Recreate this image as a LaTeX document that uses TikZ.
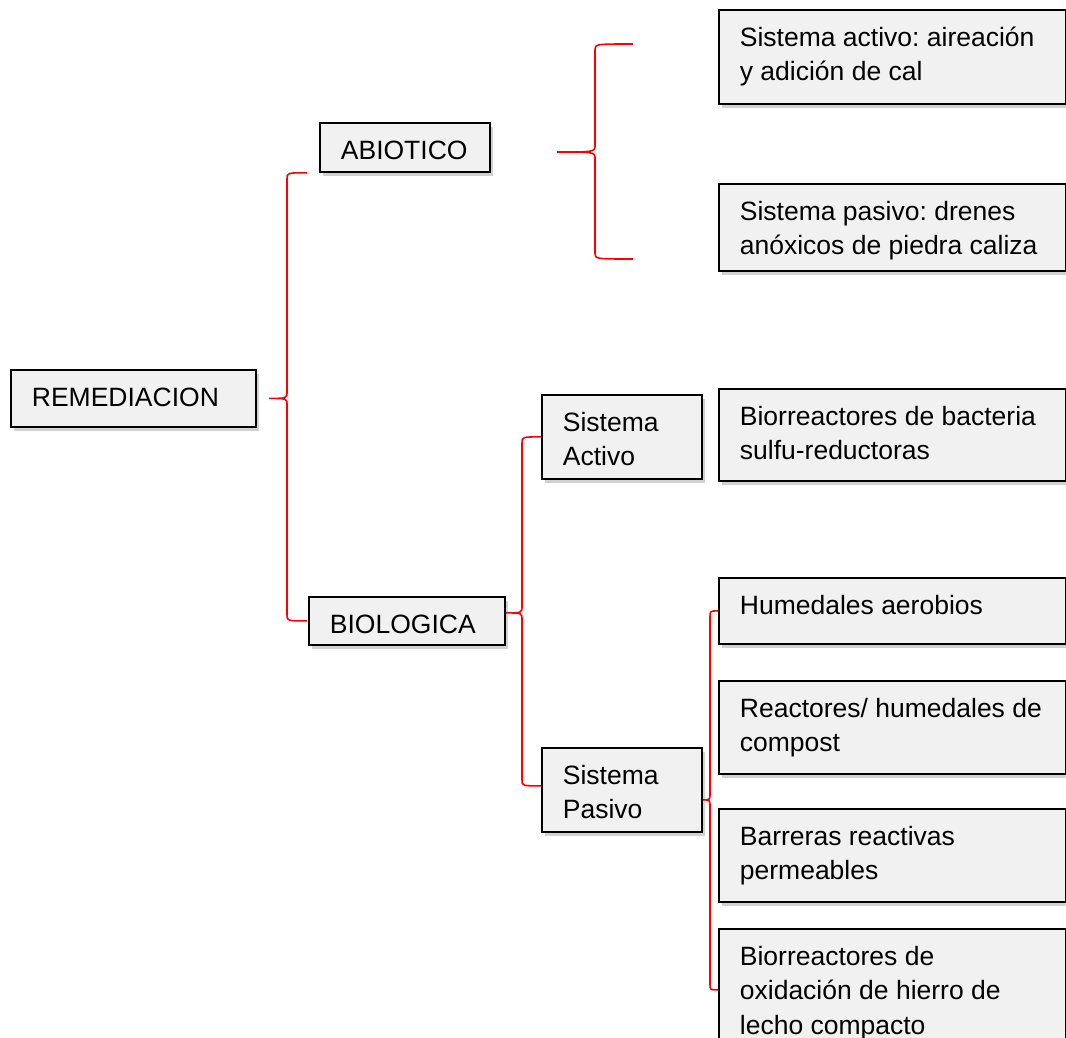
\documentclass[tikz,border=0pt]{standalone}
\usepackage{fontspec}
\setmainfont{Liberation Sans}
\usepackage{tikz}
\usetikzlibrary{calc,shadows}

\definecolor{gris}{RGB}{241,241,241}
%% text of a box: width, height, lines
\newcommand{\textocaja}[3]{\parbox[t][#2pt][t]{#1pt}{\raggedright\frenchspacing\leftskip=21pt\vspace*{12pt}\strut #3}}
%% red brace: tip, x of the spine, upper end, lower end
\newcommand{\llave}[4]{%
  \draw[llave] let \p1=#1, \p2=#3, \p3=#4 in
    (\p2) .. controls (#2pt,\y2) .. (#2pt,\y2-6pt)
    -- (#2pt,\y1+7pt) .. controls (#2pt,\y1) .. (\p1)
    .. controls (#2pt,\y1) .. (#2pt,\y1-7pt)
    -- (#2pt,\y3+6pt) .. controls (#2pt,\y3) .. (\p3);}

\tikzset{
  caja/.style={draw=black, line width=1.8pt, fill=gris, inner sep=0pt,
    anchor=north west, font=\fontsize{26.5}{34.5}\selectfont,
    drop shadow={shadow xshift=3pt, shadow yshift=-4pt, opacity=.3, fill=black!60}},
  llave/.style={red, line width=1.6pt}
}

\begin{document}
\begin{tikzpicture}[x=1pt,y=-1pt]
	\useasboundingbox (0,0) rectangle (1066,1038);
	\clip (0,0) rectangle (1066,1038);
	%% left part of the tree
	\node[caja] (remed) at (10,369) {\textocaja{245}{57}{REMEDIACION}};
	\node[caja] (abio) at (319,122) {\textocaja{170}{49}{ABIOTICO}};
	\node[caja] (bio) at (308,596) {\textocaja{196}{48}{BIOLOGICA}};
	\node[caja] (sact) at (541,394) {\textocaja{160}{84}{Sistema\\Activo}};
	\node[caja] (spas) at (541,747) {\textocaja{160}{84}{Sistema\\Pasivo}};
	%% right column
	\node[caja] (aire) at (718,9) {\textocaja{347}{94}{Sistema activo: aireación\\y adición de cal}};
	\node[caja] (dren) at (718,183) {\textocaja{347}{87}{Sistema pasivo: drenes\\anóxicos de piedra caliza}};
	\node[caja] (bact) at (718,388) {\textocaja{347}{92}{Biorreactores de bacteria\\sulfu-reductoras}};
	\node[caja] (hum) at (718,577) {\textocaja{347}{66}{Humedales aerobios}};
	\node[caja] (comp) at (718,680) {\textocaja{347}{93}{Reactores/ humedales de\\compost}};
	\node[caja] (barr) at (718,808) {\textocaja{347}{93}{Barreras reactivas\\permeables}};
	\node[caja] (oxi) at (718,928) {\textocaja{347}{120}{Biorreactores de\\oxidación de hierro de\\lecho compacto}};
	%% free ends of the abiotic brace
	\coordinate (apunta) at (557,152);
	\coordinate (aarriba) at (633,44);
	\coordinate (aabajo) at (633,259);
	%% braces
	\llave{([xshift=12pt]remed.east)}{287}{([xshift=-12pt]abio.south west)}{([xshift=-1pt]bio.west)}
	\llave{(apunta)}{595}{(aarriba)}{(aabajo)}
	\llave{([yshift=8pt]bio.east)}{522}{(sact.west)}{([yshift=4pt]spas.west)}
	\llave{([yshift=-10pt]spas.east)}{710}{(hum.west)}{([yshift=-1pt]oxi.west)}
\end{tikzpicture}
\end{document}
